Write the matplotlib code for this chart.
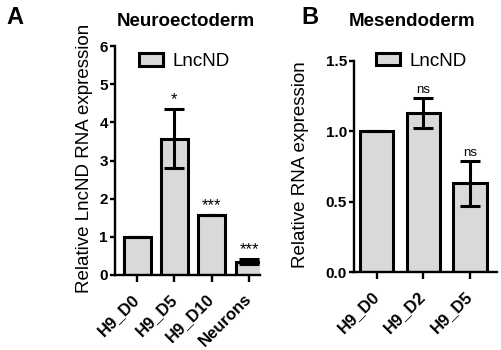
import matplotlib
matplotlib.use('Agg')
import matplotlib.pyplot as plt
from matplotlib.patches import Patch

plt.rcParams['font.family'] = ['Liberation Sans', 'DejaVu Sans']

# Panel A - Neuroectoderm
a_labels = ['H9_D0', 'H9_D5', 'H9_D10', 'Neurons']
a_values = [1.0, 3.57, 1.57, 0.35]
a_errors = [0.0, 0.77, 0.0, 0.07]
a_marks = ['', '*', '***', '***']

# Panel B - Mesendoderm
b_labels = ['H9_D0', 'H9_D2', 'H9_D5']
b_values = [1.0, 1.13, 0.63]
b_errors = [0.0, 0.105, 0.16]
b_marks = ['', 'ns', 'ns']

bar_color = '#d9d9d9'
lw = 2.2
W, H = 502, 350


def fx(px):
    return px / W


def fy(py):
    return 1 - py / H


def draw_panel(ax, labels, values, errors, marks, ylim, yticks, ytick_fmt,
               xlim, width, ylabel, label_x, legend_xy):
    x = list(range(len(labels)))
    ax.bar(x, values, width=width, color=bar_color, edgecolor='black',
           linewidth=lw, zorder=2)
    ax.errorbar(x, values, yerr=errors, fmt='none', ecolor='black',
                elinewidth=lw, capsize=7, capthick=lw, zorder=3)
    for xi, v, e, m in zip(x, values, errors, marks):
        if not m:
            continue
        if m == 'ns':
            ax.annotate(m, (xi, v + e), xytext=(0, 1.5),
                        textcoords='offset points', ha='center',
                        va='bottom', fontsize=9.5)
        else:
            ax.annotate(m, (xi, v + e), xytext=(0, 1.5),
                        textcoords='offset points', ha='center',
                        va='bottom', fontsize=12)
    ax.set_xlim(*xlim)
    ax.set_ylim(*ylim)
    ax.set_yticks(yticks)
    ax.set_yticklabels([ytick_fmt.format(t) for t in yticks],
                       fontsize=11, fontweight='bold')
    ax.set_xticks(x)
    ax.set_xticklabels(labels, rotation=45, ha='right', va='center',
                       rotation_mode='anchor', fontsize=12,
                       fontweight='bold')
    ax.spines['top'].set_visible(False)
    ax.spines['right'].set_visible(False)
    ax.spines['left'].set_linewidth(1.7)
    ax.spines['bottom'].set_linewidth(1.7)
    ax.tick_params(axis='y', width=1.7, length=3.6, pad=1.5)
    ax.tick_params(axis='x', width=1.7, length=5, pad=10.5)
    ax.set_ylabel(ylabel, fontsize=13.5)
    ax.yaxis.set_label_coords(label_x, 0.51)
    ax.legend(handles=[Patch(facecolor=bar_color, edgecolor='black',
                             linewidth=lw, label='LncND')],
              loc='center left', bbox_to_anchor=legend_xy,
              bbox_transform=fig.transFigure, frameon=False,
              fontsize=13.5, handlelength=1.3, handleheight=0.65,
              handletextpad=0.5, borderpad=0, borderaxespad=0)


fig = plt.figure(figsize=(5.02, 3.5), dpi=100)
ax_a = fig.add_axes([fx(115), fy(275), fx(145), 229 / H])
ax_b = fig.add_axes([fx(354), fy(272), fx(143), 211 / H])

draw_panel(ax_a, a_labels, a_values, a_errors, a_marks, (0, 6),
           [0, 1, 2, 3, 4, 5, 6], '{:d}', (-0.59, 3.29), 0.72,
           'Relative LncND RNA expression', -0.152, (fx(139), fy(61.5)))
draw_panel(ax_b, b_labels, b_values, b_errors, b_marks, (0, 1.5),
           [0.0, 0.5, 1.0, 1.5], '{:.1f}', (-0.49, 2.58), 0.71,
           'Relative RNA expression', -0.315, (fx(376), fy(61)))

fig.text(fx(186), fy(22), 'Neuroectoderm', fontsize=13.5, fontweight='bold',
         ha='center', va='center')
fig.text(fx(412), fy(22), 'Mesendoderm', fontsize=13.5, fontweight='bold',
         ha='center', va='center')

fig.text(fx(6), fy(6), 'A', fontsize=17, fontweight='bold', va='top')
fig.text(fx(301), fy(6), 'B', fontsize=17, fontweight='bold', va='top')

fig.savefig('out.png', dpi=100)
